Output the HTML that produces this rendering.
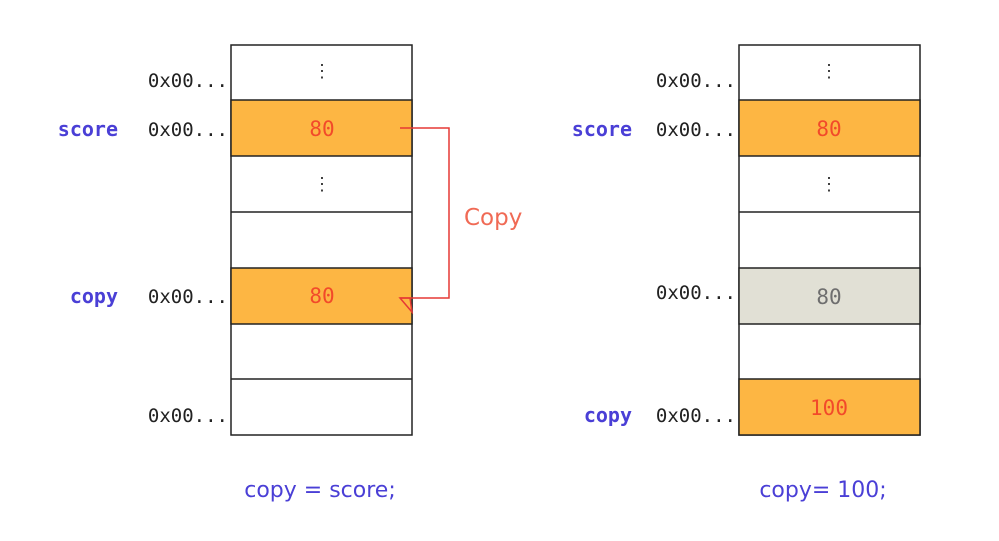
<!DOCTYPE html>
<html><head><meta charset="utf-8"><style>body{margin:0;background:#fff}</style></head><body>
<svg width="999" height="536" xmlns="http://www.w3.org/2000/svg">
<g stroke="#222" stroke-width="1.5">
<rect x="231" y="45" width="181" height="390" fill="#fff"/>
<rect x="231" y="100" width="181" height="56" fill="#FDB643"/>
<rect x="231" y="268" width="181" height="56" fill="#FDB643"/>
<line x1="231" y1="212" x2="412" y2="212"/><line x1="231" y1="379" x2="412" y2="379"/>
<rect x="739" y="45" width="181" height="390" fill="#fff"/>
<rect x="739" y="100" width="181" height="56" fill="#FDB643"/>
<rect x="739" y="268" width="181" height="56" fill="#E1E0D5"/>
<rect x="739" y="379" width="181" height="56" fill="#FDB643"/>
<line x1="739" y1="212" x2="920" y2="212"/>
</g>
<g font-family="DejaVu Sans Mono, Liberation Mono, monospace" font-size="19" fill="#222" text-anchor="end">
<text x="228" y="87">0x00...</text><text x="228" y="136">0x00...</text><text x="228" y="303">0x00...</text><text x="228" y="422">0x00...</text>
<text x="736" y="87">0x00...</text><text x="736" y="136">0x00...</text><text x="736" y="299">0x00...</text><text x="736" y="422">0x00...</text>
</g>
<g font-family="DejaVu Sans Mono, Liberation Mono, monospace" font-size="20" font-weight="bold" fill="#4A3FD6" text-anchor="end">
<text x="118" y="136">score</text><text x="118" y="303">copy</text>
<text x="632" y="136">score</text><text x="632" y="422">copy</text>
</g>
<g font-family="DejaVu Sans Mono, Liberation Mono, monospace" font-size="21" text-anchor="middle" fill="#F24A2A">
<text x="322" y="136">80</text><text x="322" y="303">80</text>
<text x="829" y="136">80</text><text x="829" y="415">100</text>
<text x="829" y="304" fill="#6e6e6e">80</text>
</g>
<g font-family="DejaVu Sans Mono, monospace" font-size="18" text-anchor="middle" fill="#333">
<text x="322" y="77">⋮</text><text x="322" y="190">⋮</text><text x="829" y="77">⋮</text><text x="829" y="190">⋮</text>
</g>
<path d="M400 128 H449 V298 H400" fill="none" stroke="#E53935" stroke-width="1.5"/>
<path d="M400 298 L410 298 L412 312 Z" fill="none" stroke="#E53935" stroke-width="1.5"/>
<text x="464" y="225" font-family="DejaVu Sans, Liberation Sans, sans-serif" font-size="23" fill="#F06A55">Copy</text>
<g font-family="DejaVu Sans, Liberation Sans, sans-serif" font-size="22" fill="#4A3FD6" text-anchor="middle">
<text x="320" y="497">copy = score;</text><text x="823" y="497">copy= 100;</text>
</g>
</svg>
</body></html>
